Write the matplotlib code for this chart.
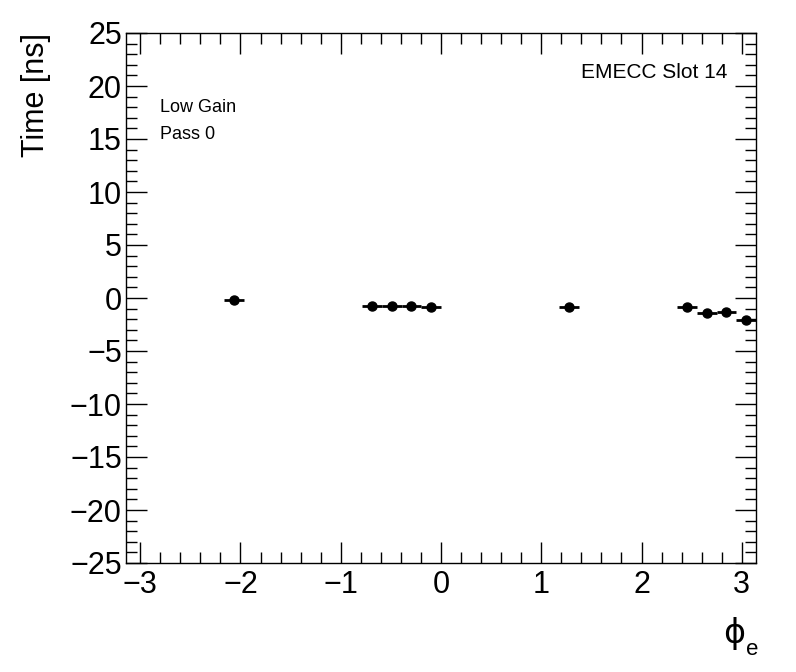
import numpy as np
import matplotlib
matplotlib.use("Agg")
import matplotlib.pyplot as plt
from matplotlib.ticker import MultipleLocator

plt.rcParams['font.family'] = ['Liberation Sans', 'DejaVu Sans']

# bin indices (32 bins over -pi..pi) and time values
bin_index = [5, 12, 13, 14, 15, 22, 28, 29, 30, 31]
time_ns = [-0.2, -0.73, -0.73, -0.73, -0.88, -0.82, -0.88, -1.45, -1.35, -2.08]
n_bins = 32

bw = 2 * np.pi / n_bins
phi = [-np.pi + (k + 0.5) * bw for k in bin_index]

fig = plt.figure(figsize=(7.96, 6.72), dpi=100)
ax = fig.add_axes([126/796, 1-563/672, 630/796, 530/672])

ax.errorbar(phi, time_ns, xerr=bw/2, fmt='o', color='black', markersize=6.5,
            elinewidth=2, capsize=0)

ax.set_xlim(-np.pi, np.pi)
ax.set_ylim(-25, 25)
ax.xaxis.set_major_locator(MultipleLocator(1))
ax.xaxis.set_minor_locator(MultipleLocator(0.2))
ax.yaxis.set_major_locator(MultipleLocator(5))
ax.yaxis.set_minor_locator(MultipleLocator(1))
ax.tick_params(which='both', direction='in', top=True, right=True, width=1, labelsize=22)
ax.tick_params(which='major', length=15)
ax.tick_params(axis='y', which='major', pad=3)
ax.tick_params(axis='x', which='major', pad=5)
ax.tick_params(which='minor', length=8)
for s in ax.spines.values():
    s.set_linewidth(1)

fig.text(36/796, 1-33/672, 'Time [ns]', rotation=90, ha='center', va='top', fontsize=22)
fig.text(745/796, 1-650/672, '\u03d5', ha='right', va='bottom', fontsize=24,
         family=['DejaVu Sans'])
fig.text(746/796, 1-660/672, 'e', ha='left', va='bottom', fontsize=16)

ax.text(0.955, 0.925, 'EMECC Slot 14', transform=ax.transAxes, ha='right', va='center', fontsize=15)
ax.text(0.054, 0.859, 'Low Gain', transform=ax.transAxes, ha='left', va='center', fontsize=13)
ax.text(0.054, 0.808, 'Pass 0', transform=ax.transAxes, ha='left', va='center', fontsize=13)

fig.savefig('out.png', dpi=100)
